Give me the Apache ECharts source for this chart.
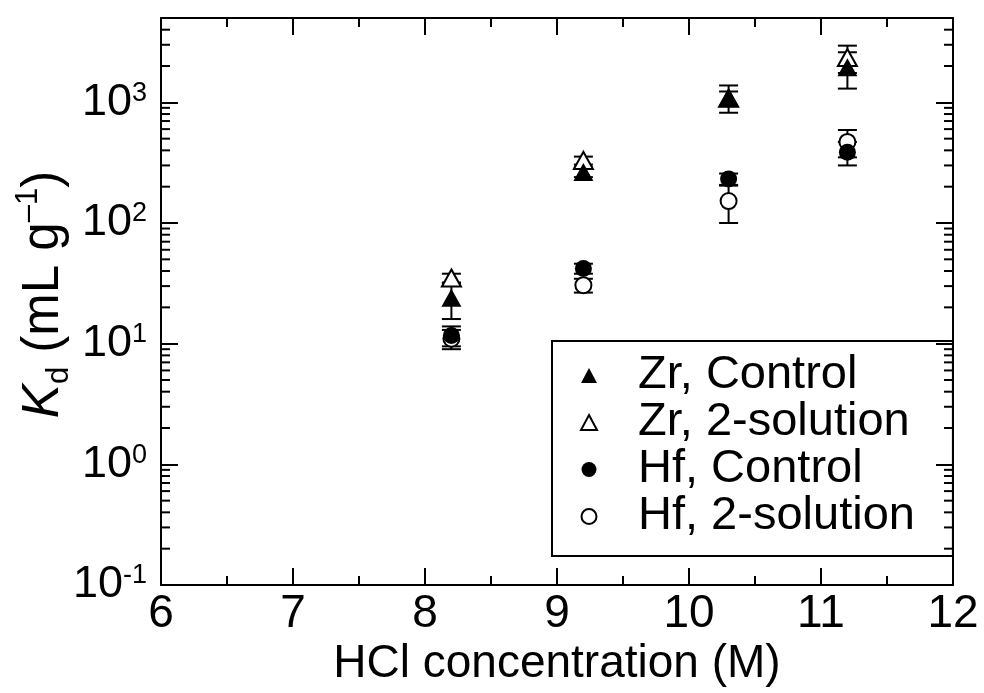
<!DOCTYPE html>
<html>
<head>
<meta charset="utf-8">
<script src="https://cdn.jsdelivr.net/npm/echarts@6/dist/echarts.min.js"></script>
<style>
  html, body { margin: 0; padding: 0; background: #fff; }
  #chart { width: 984px; height: 693px; }
</style>
</head>
<body>
<div id="chart"></div>
<script>
// HCl concentration (M)
const hclConc = [8.2, 9.2, 10.3, 11.2];

// Kd values (mL/g) and their errors
const zrControl = [24, 265, 1100, 1950];
const zrControlErr = [8, 25, 280, 650];
const zrTwoSol = [35, 330, 1080, 2350];
const zrTwoSolErr = [3, 25, 150, 600];
const hfControl = [11.7, 42, 232, 385];
const hfControlErr = [2.2, 4, 25, 85];
const hfTwoSol = [11, 30.5, 152, 470];
const hfTwoSolErr = [2, 4, 52, 120];

const xMin = 6, xMax = 12;
const yMin = 0.1, yMax = 5000;
const decades = [0.1, 1, 10, 100, 1000];
const minorMultipliers = [2, 3, 4, 5, 6, 7, 8, 9];

const FONT = 'Liberation Sans, Arial, sans-serif';

const points = (ys) => hclConc.map((x, i) => [x, ys[i]]);
const errRows = (ys, es) => hclConc.map((x, i) => [x, ys[i] - es[i], ys[i] + es[i]]);

// log minor ticks (2..9 x 10^k) inside the frame
const minorTickRows = [];
decades.forEach(d => minorMultipliers.forEach(m => {
    const v = m * d;
    if (v < yMax) minorTickRows.push([xMin, v]);
}));

function renderErrorBar(params, api) {
    const x = api.value(0);
    const top = api.coord([x, api.value(2)]);
    const bot = api.coord([x, api.value(1)]);
    const hw = 9.5;
    const style = { stroke: '#000', lineWidth: 2 };
    return {
        type: 'group',
        children: [
            { type: 'line', shape: { x1: top[0], y1: top[1], x2: bot[0], y2: bot[1] }, style },
            { type: 'line', shape: { x1: top[0] - hw, y1: top[1], x2: top[0] + hw, y2: top[1] }, style },
            { type: 'line', shape: { x1: bot[0] - hw, y1: bot[1], x2: bot[0] + hw, y2: bot[1] }, style }
        ]
    };
}

function renderMinorTicks(params, api) {
    const y = api.coord([xMin, api.value(1)])[1];
    const cs = params.coordSys;
    const style = { stroke: '#000', lineWidth: 2 };
    return {
        type: 'group',
        children: [
            { type: 'line', shape: { x1: cs.x, y1: y, x2: cs.x + 9, y2: y }, style },
            { type: 'line', shape: { x1: cs.x + cs.width, y1: y, x2: cs.x + cs.width - 9, y2: y }, style }
        ]
    };
}

function errorSeries(ys, es) {
    return {
        type: 'custom',
        renderItem: renderErrorBar,
        data: errRows(ys, es),
        encode: { x: 0, y: [1, 2] },
        silent: true,
        z: 1
    };
}

const axisLineStyle = { show: true, lineStyle: { color: '#000', width: 2 } };
const tickStyle = { show: true, inside: true, length: 17, lineStyle: { color: '#000', width: 2 } };

const xAxisBase = {
    type: 'value',
    min: xMin,
    max: xMax,
    interval: 1,
    axisLine: axisLineStyle,
    axisTick: tickStyle,
    minorTick: { show: true, splitNumber: 2, length: 9, lineStyle: { color: '#000', width: 2 } },
    splitLine: { show: false }
};

const yAxisBase = {
    type: 'log',
    logBase: 10,
    min: yMin,
    max: yMax,
    axisLine: axisLineStyle,
    axisTick: tickStyle,
    splitLine: { show: false }
};

function powerLabel(value) {
    const l = Math.log10(value);
    const e = Math.round(l);
    if (Math.abs(l - e) > 1e-6) return '';
    return '{b|10}{s|' + e + '}';
}

const chart = echarts.init(document.getElementById('chart'));

chart.setOption({
    backgroundColor: '#fff',
    animation: false,
    grid: { left: 161, right: 31, top: 18, bottom: 108, containLabel: false, outerBoundsMode: 'none' },
    legend: {
        orient: 'vertical',
        left: 552,
        top: 341,
        data: ['Zr, Control', 'Zr, 2-solution', 'Hf, Control', 'Hf, 2-solution'],
        itemWidth: 16,
        itemHeight: 15,
        itemGap: 0,
        padding: [11, 38, 16, 28],
        borderColor: '#000',
        borderWidth: 2,
        textStyle: {
            fontFamily: FONT,
            fontSize: 47,
            lineHeight: 46,
            color: '#000',
            padding: [0, 0, 0, 36]
        }
    },
    xAxis: [
        Object.assign({}, xAxisBase, {
            position: 'bottom',
            axisLabel: { fontFamily: FONT, fontSize: 46, color: '#000', margin: 6 },
            name: 'HCl concentration (M)',
            nameLocation: 'middle',
            nameGap: 56,
            nameMoveOverlap: false,
            nameTextStyle: { fontFamily: FONT, fontSize: 46, color: '#000' }
        }),
        Object.assign({}, xAxisBase, {
            position: 'top',
            axisLabel: { show: false }
        })
    ],
    yAxis: [
        Object.assign({}, yAxisBase, {
            position: 'left',
            axisLabel: {
                formatter: powerLabel,
                margin: 14,
                rich: {
                    b: { fontFamily: FONT, fontSize: 45, color: '#000', lineHeight: 45 },
                    s: { fontFamily: FONT, fontSize: 27, color: '#000', verticalAlign: 'top', lineHeight: 27 }
                }
            },
            name: '{k|K}{sub|d}{n| (mL g}{sup|–1}{n|)}',
            nameLocation: 'middle',
            nameRotate: 90,
            nameGap: 86,
            nameMoveOverlap: false,
            nameTextStyle: {
                padding: [0, 0, 0, 14],
                rich: {
                    k: { fontFamily: FONT, fontSize: 51, fontStyle: 'italic', color: '#000', lineHeight: 62 },
                    n: { fontFamily: FONT, fontSize: 51, color: '#000', lineHeight: 62 },
                    sub: { fontFamily: FONT, fontSize: 31, color: '#000', verticalAlign: 'bottom', lineHeight: 31 },
                    sup: { fontFamily: FONT, fontSize: 31, color: '#000', verticalAlign: 'top', lineHeight: 31 }
                }
            }
        }),
        Object.assign({}, yAxisBase, {
            position: 'right',
            axisLabel: { show: false }
        })
    ],
    series: [
        {
            type: 'custom',
            renderItem: renderMinorTicks,
            data: minorTickRows,
            encode: { x: 0, y: 1 },
            silent: true,
            z: 1
        },
        errorSeries(zrControl, zrControlErr),
        errorSeries(zrTwoSol, zrTwoSolErr),
        errorSeries(hfControl, hfControlErr),
        errorSeries(hfTwoSol, hfTwoSolErr),
        {
            name: 'Zr, 2-solution',
            type: 'scatter',
            symbol: 'triangle',
            symbolSize: [19, 17],
            data: points(zrTwoSol),
            itemStyle: { color: '#fff', borderColor: '#000', borderWidth: 2, opacity: 1 },
            z: 3
        },
        {
            name: 'Hf, 2-solution',
            type: 'scatter',
            symbol: 'circle',
            symbolSize: 16,
            data: points(hfTwoSol),
            itemStyle: { color: '#fff', borderColor: '#000', borderWidth: 2, opacity: 1 },
            z: 3
        },
        {
            name: 'Zr, Control',
            type: 'scatter',
            symbol: 'triangle',
            symbolSize: [20, 18],
            data: points(zrControl),
            itemStyle: { color: '#000', opacity: 1 },
            z: 4
        },
        {
            name: 'Hf, Control',
            type: 'scatter',
            symbol: 'circle',
            symbolSize: 17,
            data: points(hfControl),
            itemStyle: { color: '#000', opacity: 1 },
            z: 4
        }
    ]
});
</script>
</body>
</html>
